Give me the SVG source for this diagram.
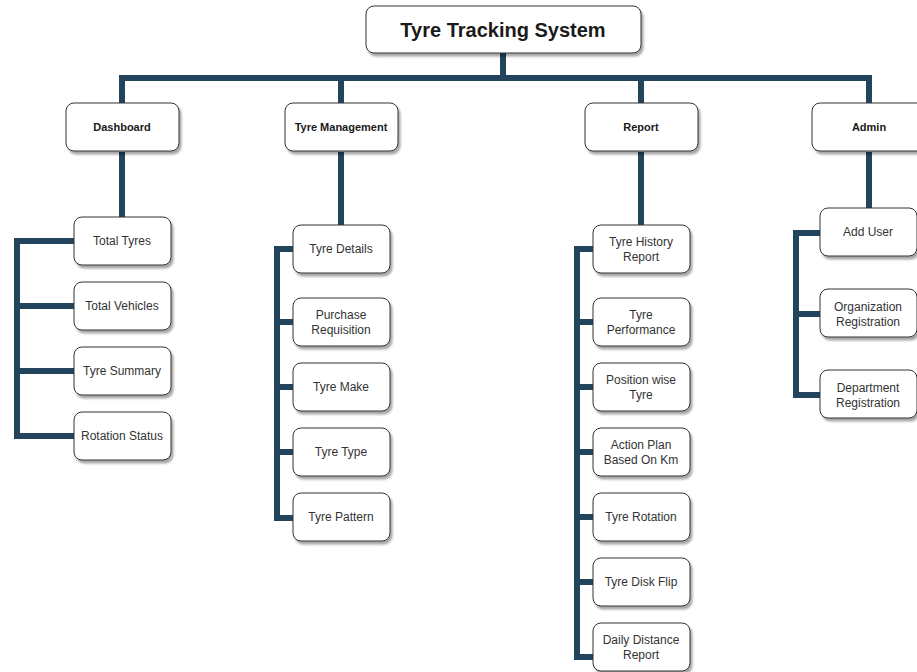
<svg xmlns="http://www.w3.org/2000/svg" width="917" height="672" viewBox="0 0 917 672">
  <defs>
    <filter id="shadow" x="-10%" y="-10%" width="130%" height="140%">
      <feDropShadow dx="2" dy="3" stdDeviation="1" flood-color="#000" flood-opacity="0.35"/>
    </filter>
  </defs>
  <style>
    .box { fill: #fff; stroke: #333; stroke-width: 1; filter: url(#shadow); }
    .wire { fill: none; stroke: #23445D; stroke-width: 6; stroke-linejoin: miter; stroke-linecap: butt; }
    text { font-family: "Liberation Sans", Arial, sans-serif; fill: #1a1a1a; text-anchor: middle; dominant-baseline: central; }
    .title { font-size: 20px; font-weight: bold; }
    .head { font-size: 11px; font-weight: bold; }
    .item { font-size: 12px; fill: #333; }
  </style>
  <rect width="917" height="672" fill="#fff"/>

  <g id="connectors">
    <!-- root to category bus -->
    <path class="wire" d="M503 53 V78 M122 103 V78 H869 V103 M341 78 V103 M641 78 V103"/>
    <!-- category to first child -->
    <path class="wire" d="M122 152 V217 M341 152 V225 M641 152 V225 M869 152 V208"/>
    <!-- Dashboard bracket -->
    <path class="wire" d="M74 241 H17 V436 H74 M17 306 H74 M17 371 H74"/>
    <!-- Tyre Management bracket -->
    <path class="wire" d="M293 249 H277 V518 H293 M277 322 H293 M277 387 H293 M277 452 H293"/>
    <!-- Report bracket -->
    <path class="wire" d="M593 249 H577 V657 H593 M577 322 H593 M577 387 H593 M577 452 H593 M577 517 H593 M577 582 H593"/>
    <!-- Admin bracket -->
    <path class="wire" d="M820 233 H796 V395 H820 M796 314 H820"/>
  </g>

  <g id="root">
    <rect class="box" x="366" y="6" width="275" height="47" rx="8"/>
    <text class="title" x="503" y="30">Tyre Tracking System</text>
  </g>

  <g id="dashboard">
    <rect class="box" x="66" y="103" width="113" height="48" rx="8"/>
    <text class="head" x="122" y="127">Dashboard</text>
  </g>
  <g id="tyre-management">
    <rect class="box" x="285" y="103" width="113" height="48" rx="8"/>
    <text class="head" x="341" y="127">Tyre Management</text>
  </g>
  <g id="report">
    <rect class="box" x="585" y="103" width="113" height="48" rx="8"/>
    <text class="head" x="641" y="127">Report</text>
  </g>
  <g id="admin">
    <rect class="box" x="812" y="103" width="113" height="48" rx="8"/>
    <text class="head" x="869" y="127">Admin</text>
  </g>

  <!-- Dashboard items -->
  <g id="total-tyres">
    <rect class="box" x="74" y="217" width="97" height="48" rx="8"/>
    <text class="item" x="122" y="241">Total Tyres</text>
  </g>
  <g id="total-vehicles">
    <rect class="box" x="74" y="282" width="97" height="48" rx="8"/>
    <text class="item" x="122" y="306">Total Vehicles</text>
  </g>
  <g id="tyre-summary">
    <rect class="box" x="74" y="347" width="97" height="48" rx="8"/>
    <text class="item" x="122" y="371">Tyre Summary</text>
  </g>
  <g id="rotation-status">
    <rect class="box" x="74" y="412" width="97" height="48" rx="8"/>
    <text class="item" x="122" y="436">Rotation Status</text>
  </g>

  <!-- Tyre Management items -->
  <g id="tyre-details">
    <rect class="box" x="293" y="225" width="97" height="48" rx="8"/>
    <text class="item" x="341" y="249">Tyre Details</text>
  </g>
  <g id="purchase-requisition">
    <rect class="box" x="293" y="298" width="97" height="48" rx="8"/>
    <text class="item" x="341" y="315">Purchase</text>
    <text class="item" x="341" y="330">Requisition</text>
  </g>
  <g id="tyre-make">
    <rect class="box" x="293" y="363" width="97" height="48" rx="8"/>
    <text class="item" x="341" y="387">Tyre Make</text>
  </g>
  <g id="tyre-type">
    <rect class="box" x="293" y="428" width="97" height="48" rx="8"/>
    <text class="item" x="341" y="452">Tyre Type</text>
  </g>
  <g id="tyre-pattern">
    <rect class="box" x="293" y="493" width="97" height="48" rx="8"/>
    <text class="item" x="341" y="517">Tyre Pattern</text>
  </g>

  <!-- Report items -->
  <g id="tyre-history-report">
    <rect class="box" x="593" y="225" width="97" height="48" rx="8"/>
    <text class="item" x="641" y="242">Tyre History</text>
    <text class="item" x="641" y="257">Report</text>
  </g>
  <g id="tyre-performance">
    <rect class="box" x="593" y="298" width="97" height="48" rx="8"/>
    <text class="item" x="641" y="315">Tyre</text>
    <text class="item" x="641" y="330">Performance</text>
  </g>
  <g id="position-wise-tyre">
    <rect class="box" x="593" y="363" width="97" height="48" rx="8"/>
    <text class="item" x="641" y="380">Position wise</text>
    <text class="item" x="641" y="395">Tyre</text>
  </g>
  <g id="action-plan">
    <rect class="box" x="593" y="428" width="97" height="48" rx="8"/>
    <text class="item" x="641" y="445">Action Plan</text>
    <text class="item" x="641" y="460">Based On Km</text>
  </g>
  <g id="tyre-rotation">
    <rect class="box" x="593" y="493" width="97" height="48" rx="8"/>
    <text class="item" x="641" y="517">Tyre Rotation</text>
  </g>
  <g id="tyre-disk-flip">
    <rect class="box" x="593" y="558" width="97" height="48" rx="8"/>
    <text class="item" x="641" y="582">Tyre Disk Flip</text>
  </g>
  <g id="daily-distance-report">
    <rect class="box" x="593" y="623" width="97" height="48" rx="8"/>
    <text class="item" x="641" y="640">Daily Distance</text>
    <text class="item" x="641" y="655">Report</text>
  </g>

  <!-- Admin items -->
  <g id="add-user">
    <rect class="box" x="820" y="208" width="97" height="48" rx="8"/>
    <text class="item" x="868" y="232">Add User</text>
  </g>
  <g id="organization-registration">
    <rect class="box" x="820" y="289" width="97" height="48" rx="8"/>
    <text class="item" x="868" y="307">Organization</text>
    <text class="item" x="868" y="322">Registration</text>
  </g>
  <g id="department-registration">
    <rect class="box" x="820" y="370" width="97" height="48" rx="8"/>
    <text class="item" x="868" y="388">Department</text>
    <text class="item" x="868" y="403">Registration</text>
  </g>
</svg>
